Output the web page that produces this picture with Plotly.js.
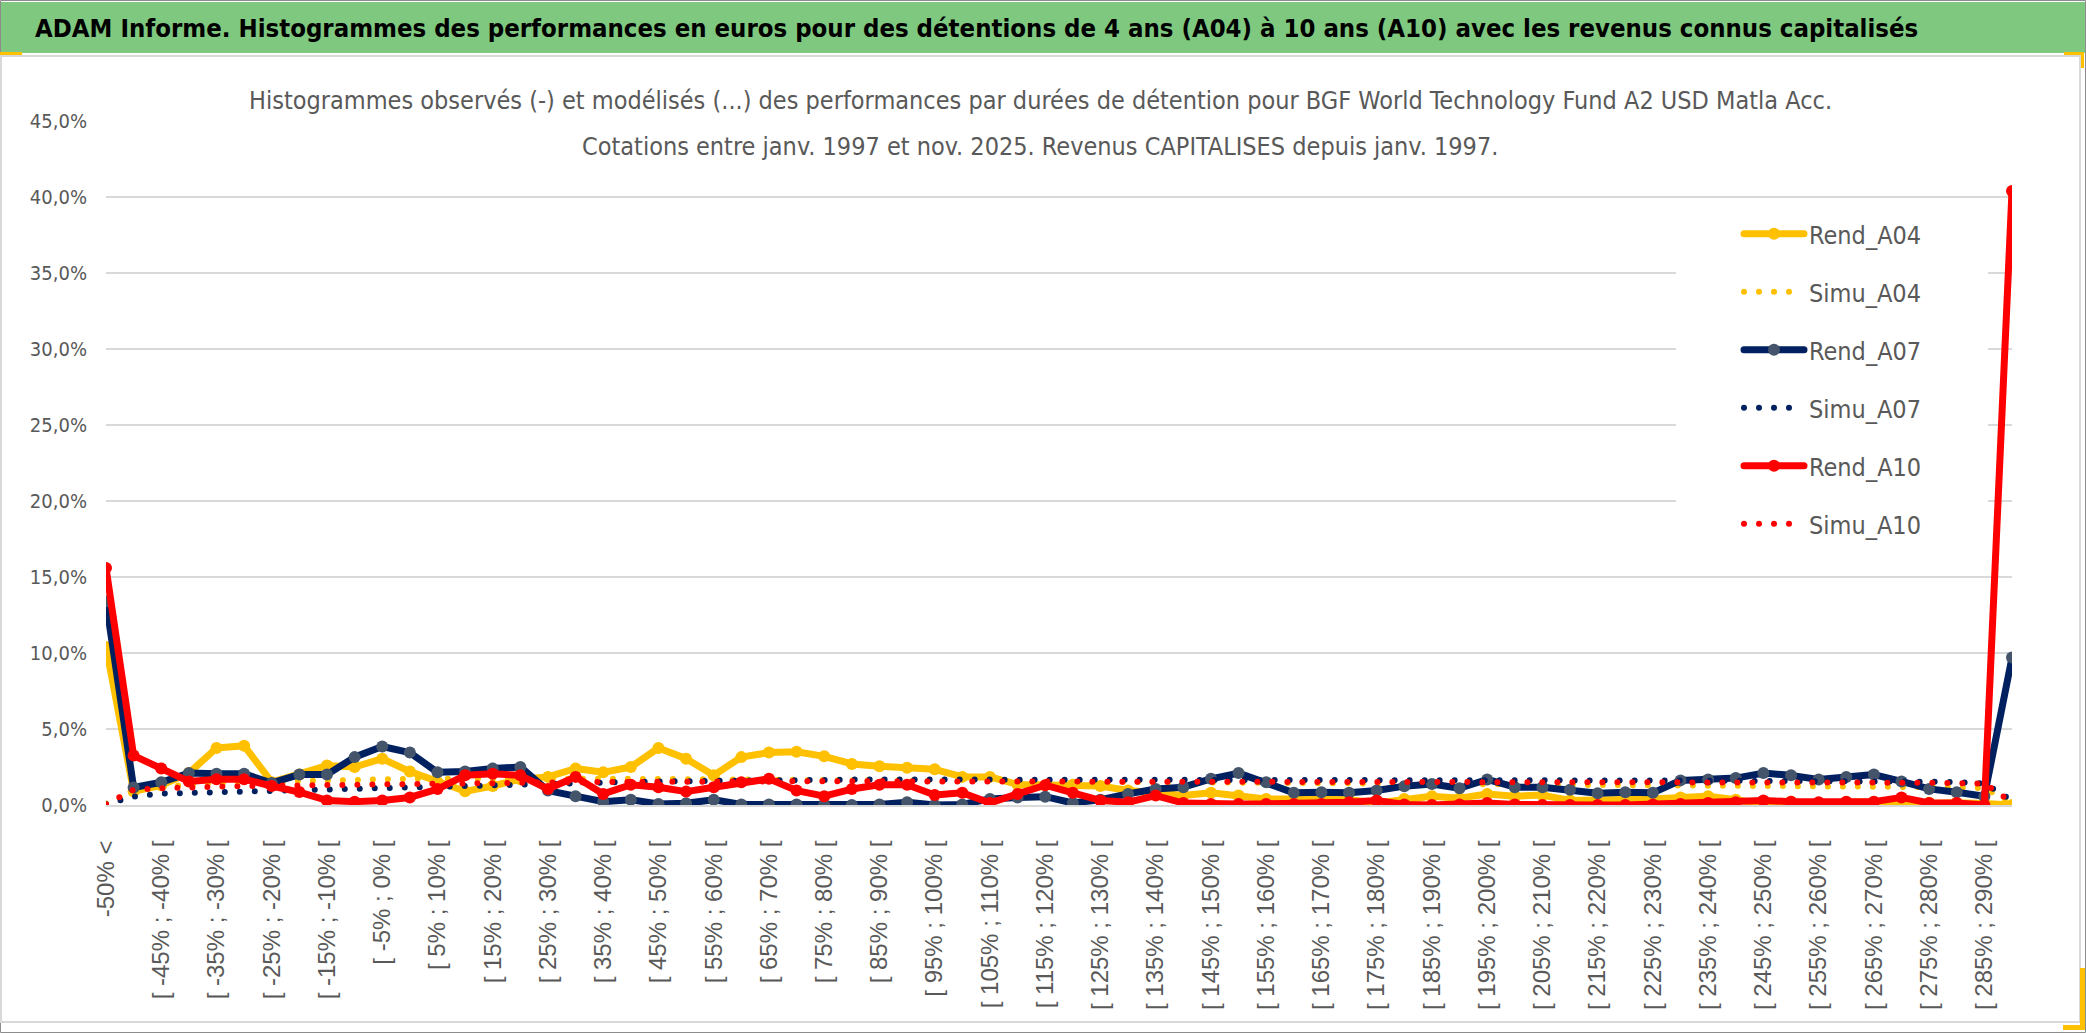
<!DOCTYPE html>
<html>
<head>
<meta charset="utf-8">
<script src="https://cdn.plot.ly/plotly-3.0.1.min.js"></script>
<style>
  html, body { margin: 0; padding: 0; background: #fff; }
  #chart { width: 2086px; height: 1033px; }
</style>
</head>
<body>
<div id="chart"></div>
<script>
// categories (classes de performance)
var categories = [
  "-50% <", "[ -50% ; -45% [", "[ -45% ; -40% [", "[ -40% ; -35% [", "[ -35% ; -30% [",
  "[ -30% ; -25% [", "[ -25% ; -20% [", "[ -20% ; -15% [", "[ -15% ; -10% [", "[ -10% ; -5% [",
  "[ -5% ; 0% [", "[ 0% ; 5% [", "[ 5% ; 10% [", "[ 10% ; 15% [", "[ 15% ; 20% [",
  "[ 20% ; 25% [", "[ 25% ; 30% [", "[ 30% ; 35% [", "[ 35% ; 40% [", "[ 40% ; 45% [",
  "[ 45% ; 50% [", "[ 50% ; 55% [", "[ 55% ; 60% [", "[ 60% ; 65% [", "[ 65% ; 70% [",
  "[ 70% ; 75% [", "[ 75% ; 80% [", "[ 80% ; 85% [", "[ 85% ; 90% [", "[ 90% ; 95% [",
  "[ 95% ; 100% [", "[ 100% ; 105% [", "[ 105% ; 110% [", "[ 110% ; 115% [", "[ 115% ; 120% [",
  "[ 120% ; 125% [", "[ 125% ; 130% [", "[ 130% ; 135% [", "[ 135% ; 140% [", "[ 140% ; 145% [",
  "[ 145% ; 150% [", "[ 150% ; 155% [", "[ 155% ; 160% [", "[ 160% ; 165% [", "[ 165% ; 170% [",
  "[ 170% ; 175% [", "[ 175% ; 180% [", "[ 180% ; 185% [", "[ 185% ; 190% [", "[ 190% ; 195% [",
  "[ 195% ; 200% [", "[ 200% ; 205% [", "[ 205% ; 210% [", "[ 210% ; 215% [", "[ 215% ; 220% [",
  "[ 220% ; 225% [", "[ 225% ; 230% [", "[ 230% ; 235% [", "[ 235% ; 240% [", "[ 240% ; 245% [",
  "[ 245% ; 250% [", "[ 250% ; 255% [", "[ 255% ; 260% [", "[ 260% ; 265% [", "[ 265% ; 270% [",
  "[ 270% ; 275% [", "[ 275% ; 280% [", "[ 280% ; 285% [", "[ 285% ; 290% [", "> 290%"
];

// observed histograms (%)
var rendA04 = [
  10.4, 0.9, 1.3, 2.1, 3.75, 3.9, 1.5, 2.0, 2.6, 2.5,
  3.05, 2.2, 1.5, 0.9, 1.25, 1.7, 1.85, 2.4, 2.15, 2.5,
  3.75, 3.05, 1.95, 3.15, 3.45, 3.5, 3.2, 2.7, 2.55, 2.45,
  2.35, 1.85, 1.85, 1.35, 1.3, 1.33, 1.25, 0.95, 0.75, 0.62,
  0.8, 0.62, 0.4, 0.4, 0.35, 0.35, 0.13, 0.4, 0.58, 0.45,
  0.72, 0.58, 0.65, 0.3, 0.3, 0.4, 0.4, 0.5, 0.58, 0.35,
  0.07, 0.22, 0.08, 0.2, 0.2, 0.05, 0.15, 0.15, 0.1, 0.0
];
var rendA07 = [
  13.4, 1.15, 1.5, 2.1, 2.05, 2.05, 1.45, 2.0, 2.0, 3.15,
  3.85, 3.45, 2.15, 2.2, 2.4, 2.5, 0.95, 0.58, 0.22, 0.35,
  0.07, 0.11, 0.35, 0.04, 0.04, 0.04, 0.04, 0.0, 0.04, 0.18,
  0.0, 0.04, 0.4, 0.5, 0.55, 0.13, 0.35, 0.73, 1.05, 1.17,
  1.72, 2.1, 1.5, 0.8, 0.84, 0.8, 0.95, 1.24, 1.38, 1.1,
  1.68, 1.17, 1.17, 1.0, 0.77, 0.84, 0.8, 1.62, 1.68, 1.77,
  2.1, 1.95, 1.68, 1.84, 2.0, 1.55, 1.06, 0.84, 0.58, 9.7
];
var rendA10 = [
  15.6, 3.25, 2.4, 1.55, 1.7, 1.7, 1.25, 0.85, 0.3, 0.22,
  0.3, 0.5, 1.05, 1.95, 2.05, 1.95, 1.05, 1.85, 0.73, 1.33,
  1.17, 0.88, 1.17, 1.5, 1.72, 0.95, 0.58, 1.05, 1.33, 1.33,
  0.66, 0.8, 0.13, 0.73, 1.3, 0.8, 0.3, 0.18, 0.62, 0.13,
  0.07, 0.07, 0.07, 0.07, 0.07, 0.18, 0.3, 0.04, 0.0, 0.04,
  0.13, 0.04, 0.0, 0.0, 0.0, 0.0, 0.04, 0.07, 0.13, 0.18,
  0.3, 0.22, 0.18, 0.22, 0.22, 0.5, 0.13, 0.13, 0.0, 40.4
];

// modelled histograms (%)
var simuA04 = [
  0.1, 0.9, 1.2, 1.35, 1.45, 1.5, 1.55, 1.6, 1.62, 1.66,
  1.7, 1.72, 1.73, 1.74, 1.74, 1.74, 1.73, 1.73, 1.72, 1.72,
  1.71, 1.7, 1.7, 1.69, 1.68, 1.67, 1.66, 1.65, 1.64, 1.63,
  1.62, 1.61, 1.6, 1.59, 1.58, 1.57, 1.55, 1.54, 1.52, 1.5,
  1.49, 1.47, 1.45, 1.44, 1.42, 1.41, 1.39, 1.38, 1.37, 1.35,
  1.34, 1.33, 1.32, 1.3, 1.29, 1.28, 1.27, 1.26, 1.25, 1.24,
  1.23, 1.22, 1.21, 1.2, 1.2, 1.19, 1.18, 1.17, 1.1, 0.1
];
var simuA07 = [
  0.05, 0.55, 0.75, 0.8, 0.85, 0.9, 0.95, 1.0, 1.05, 1.1,
  1.15, 1.2, 1.25, 1.3, 1.33, 1.37, 1.4, 1.45, 1.5, 1.52,
  1.55, 1.58, 1.6, 1.62, 1.64, 1.65, 1.66, 1.67, 1.68, 1.68,
  1.69, 1.69, 1.7, 1.7, 1.7, 1.7, 1.7, 1.7, 1.7, 1.7,
  1.7, 1.69, 1.69, 1.69, 1.68, 1.68, 1.67, 1.67, 1.66, 1.66,
  1.65, 1.65, 1.64, 1.63, 1.63, 1.62, 1.61, 1.61, 1.6, 1.6,
  1.59, 1.58, 1.58, 1.57, 1.56, 1.55, 1.53, 1.5, 1.42, 0.3
];
var simuA10 = [
  0.05, 1.0, 1.1, 1.17, 1.22, 1.25, 1.27, 1.3, 1.32, 1.34,
  1.36, 1.38, 1.4, 1.42, 1.44, 1.46, 1.48, 1.5, 1.52, 1.53,
  1.54, 1.55, 1.55, 1.56, 1.56, 1.56, 1.56, 1.56, 1.56, 1.56,
  1.56, 1.56, 1.56, 1.56, 1.56, 1.55, 1.55, 1.55, 1.55, 1.55,
  1.55, 1.54, 1.54, 1.54, 1.54, 1.53, 1.53, 1.53, 1.53, 1.52,
  1.52, 1.52, 1.51, 1.51, 1.51, 1.5, 1.5, 1.5, 1.5, 1.49,
  1.49, 1.49, 1.48, 1.48, 1.47, 1.47, 1.46, 1.45, 1.4, 0.2
];

var yTicks = [0, 5, 10, 15, 20, 25, 30, 35, 40, 45];
var yTickText = ['0,0%', '5,0%', '10,0%', '15,0%', '20,0%', '25,0%', '30,0%', '35,0%', '40,0%', '45,0%'];

var NARROW = '"Liberation Sans Narrow", "DejaVu Sans Condensed", "Liberation Sans", sans-serif';
var SANS = '"Liberation Sans", Arial, sans-serif';
var GREY = '#595959';

// page pixels -> paper coords
var W = 2086, H = 1033;
var M = {l: 106, r: 74, t: 121, b: 228};
function px(x) { return (x - M.l) / (W - M.l - M.r); }
function py(y) { return (H - M.b - y) / (H - M.t - M.b); }

function rend(name, y, color, markerColor) {
  return {
    x: categories, y: y, name: name, legendgroup: name,
    type: 'scatter', mode: 'lines+markers',
    line: {color: color, width: 7},
    marker: {color: markerColor, size: 12}
  };
}
function simu(name, y, color) {
  return {
    x: categories, y: y, name: name, legendgroup: name,
    type: 'scatter', mode: 'lines',
    line: {color: color, width: 6, dash: '6px,9px'}
  };
}

var data = [
  rend('Rend_A04', rendA04, '#FFC000', '#FFC000'),
  simu('Simu_A04', simuA04, '#FFC000'),
  rend('Rend_A07', rendA07, '#002060', '#44546A'),
  simu('Simu_A07', simuA07, '#002060'),
  rend('Rend_A10', rendA10, '#FF0000', '#FF0000'),
  simu('Simu_A10', simuA10, '#FF0000')
];

function rect(x0, y0, x1, y1, fill, line) {
  return {
    type: 'rect', xref: 'paper', yref: 'paper', layer: 'above',
    x0: px(x0), x1: px(x1), y0: py(y0), y1: py(y1),
    fillcolor: fill || 'rgba(0,0,0,0)',
    line: line || {width: 0}
  };
}

var layout = {
  width: W, height: H,
  margin: M,
  paper_bgcolor: '#fff', plot_bgcolor: '#fff',
  separators: ', ',
  showlegend: true,
  hovermode: false,
  xaxis: {
    type: 'category', range: [0, 69],
    tickmode: 'linear', tick0: 0, dtick: 2,
    tickangle: -90, ticks: '', ticklabelstandoff: 24,
    tickfont: {family: SANS, size: 24, color: GREY},
    showgrid: false, zeroline: false,
    showline: true, linecolor: '#d9d9d9', linewidth: 2,
    automargin: false, fixedrange: true
  },
  xaxis2: {
    overlaying: 'x', type: 'linear', range: [0, 69],
    tickmode: 'linear', tick0: 0, dtick: 4,
    showticklabels: false, ticks: '',
    showgrid: true, gridcolor: '#d9d9d9', gridwidth: 2,
    zeroline: false, showline: false, fixedrange: true
  },
  yaxis: {
    range: [0, 45], tickmode: 'array', tickvals: yTicks, ticktext: yTickText,
    ticks: '', ticklabelstandoff: 18,
    tickfont: {family: NARROW, size: 20, color: GREY},
    showgrid: true, gridcolor: '#d9d9d9', gridwidth: 2,
    zeroline: false, showline: false,
    automargin: false, fixedrange: true
  },
  legend: {
    x: px(1739), xanchor: 'left',
    y: py(211), yanchor: 'top',
    bgcolor: '#fff', borderwidth: 0,
    font: {family: NARROW, size: 25, color: GREY},
    itemwidth: 60, traceorder: 'grouped', tracegroupgap: 22.5
  },
  shapes: [
    rect(0.5, 0.5, 2085.5, 1032.5, null, {color: '#8c8c8c', width: 1}),
    rect(1, 2, 2085, 53, '#7ec87f'),
    rect(1, 56, 2080, 1022, null, {color: '#d9d9d9', width: 2}),
    rect(247, 84, 1833, 165, '#fff'),
    rect(1676, 205, 1988, 550, '#fff'),
    rect(0, 52, 22, 55, '#FFC000'),
    rect(2064, 52, 2084, 55, '#FFC000'),
    rect(2081, 52, 2084, 68, '#FFC000'),
    rect(2080, 968, 2085, 1030, '#FFC000'),
    rect(2063, 1025, 2085, 1030, '#FFC000')
  ],
  annotations: [
    {
      xref: 'paper', yref: 'paper', x: px(33), y: py(28),
      xanchor: 'left', yanchor: 'middle', showarrow: false,
      text: 'ADAM Informe. Histogrammes des performances en euros pour des détentions de 4 ans (A04) à 10 ans (A10) avec les revenus connus capitalisés',
      font: {family: NARROW, size: 25.5, color: '#000', weight: 'bold'}
    },
    {
      xref: 'paper', yref: 'paper', x: px(1040), y: py(100),
      xanchor: 'center', yanchor: 'middle', showarrow: false,
      text: 'Histogrammes observés (-) et modélisés (...) des performances par durées de détention pour BGF World Technology Fund A2 USD Matla Acc.',
      font: {family: NARROW, size: 25, color: GREY}
    },
    {
      xref: 'paper', yref: 'paper', x: px(1040), y: py(147),
      xanchor: 'center', yanchor: 'middle', showarrow: false,
      text: 'Cotations entre janv. 1997 et nov. 2025. Revenus CAPITALISES depuis janv. 1997.',
      font: {family: NARROW, size: 25, color: GREY}
    }
  ]
};

Plotly.newPlot('chart', data, layout, {displayModeBar: false, staticPlot: true}).then(function(gd) {
  // round line ends, like the spreadsheet's dotted series
  gd.querySelectorAll('path.js-line').forEach(function(p) {
    p.style.strokeLinecap = 'round';
    p.style.strokeLinejoin = 'round';
    if (p.style.strokeDasharray && p.style.strokeDasharray !== 'none') {
      p.style.strokeDasharray = '0px, 15px';
    }
  });
});
</script>
</body>
</html>
